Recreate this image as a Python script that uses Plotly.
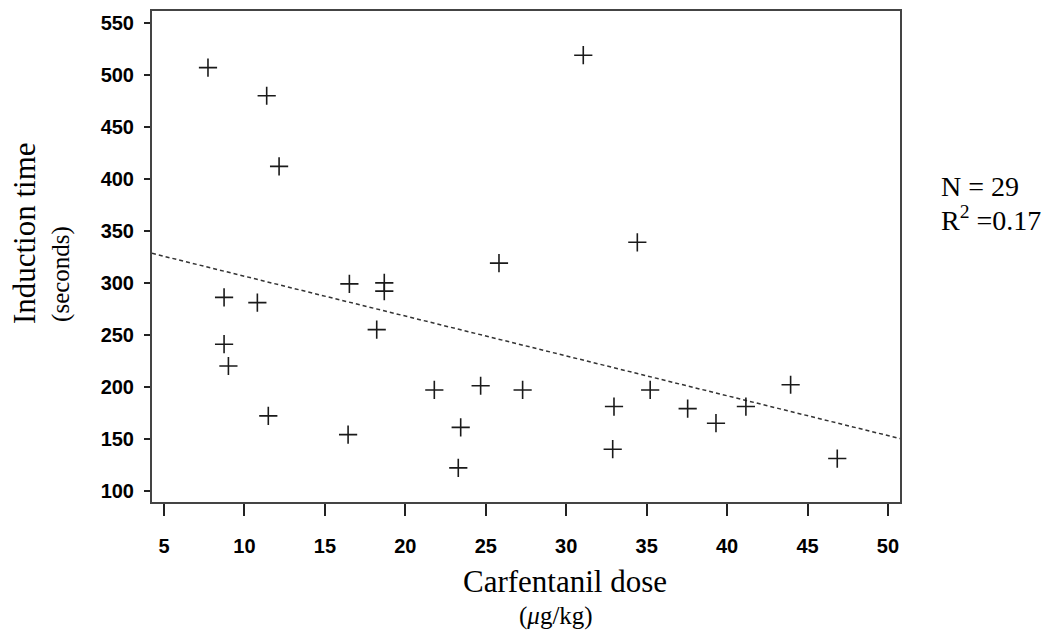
import plotly.graph_objects as go

# Data
dose = [7.73, 11.38, 12.15, 8.73, 10.80, 16.52, 18.69, 18.69, 25.82, 34.42,
        31.06, 8.73, 9.00, 11.48, 16.44, 18.22, 21.80, 24.68, 27.29, 23.44,
        23.29, 32.97, 32.89, 35.22, 37.55, 39.31, 41.17, 43.95, 46.85]
induction_time = [507, 480, 412, 286, 281, 299, 300, 292, 319, 339,
                  519, 241, 220, 172, 154, 255, 197, 201, 197, 161,
                  122, 181, 140, 197, 179, 165, 181, 202, 131]

# Regression line
fit_x = [4.25, 50.75]
fit_y = [328.4, 150.2]

x_ticks = [5, 10, 15, 20, 25, 30, 35, 40, 45, 50]
y_ticks = [100, 150, 200, 250, 300, 350, 400, 450, 500, 550]

fig = go.Figure()
fig.add_trace(go.Scatter(
    x=fit_x, y=fit_y, mode="lines",
    line=dict(color="#333333", width=1.5, dash="4px,3px"),
    showlegend=False, hoverinfo="skip"))
fig.add_trace(go.Scatter(
    x=dose, y=induction_time, mode="markers",
    marker=dict(symbol="cross-thin", size=13,
                line=dict(color="#1a1a1a", width=1.6)),
    showlegend=False))

tickfont = dict(family="Liberation Sans", size=20, color="black", weight="bold")
fig.update_xaxes(range=[4.25, 50.75], tickvals=x_ticks, ticks="outside",
                 ticklen=12, tickwidth=1.5, tickcolor="#222",
                 showline=True, linecolor="#444", linewidth=2, mirror=True,
                 showgrid=False, zeroline=False, tickfont=tickfont,
                 ticklabelstandoff=13)
fig.update_yaxes(range=[89.2, 561.5], tickvals=y_ticks, ticks="outside",
                 ticklen=6, tickwidth=1.5, tickcolor="#222",
                 showline=True, linecolor="#444", linewidth=2, mirror=True,
                 showgrid=False, zeroline=False, tickfont=tickfont,
                 ticklabelstandoff=6)

serif = "Liberation Serif"
annotations = [
    dict(text="Induction time", x=-0.1711, y=0.5477, textangle=-90,
         font=dict(family=serif, size=31, color="black")),
    dict(text="(seconds)", x=-0.1217, y=0.4645, textangle=-90,
         font=dict(family=serif, size=25, color="black")),
    dict(text="Carfentanil dose", x=0.5521, y=-0.1623,
         font=dict(family=serif, size=31, color="black")),
    dict(text="(<i>μ</i>g/kg)", x=0.5401, y=-0.2312,
         font=dict(family=serif, size=25, color="black")),
    dict(text="N = 29", x=1.0521, y=0.643, xanchor="left",
         font=dict(family=serif, size=28, color="black")),
    dict(text="R<sup>2</sup> =0.17", x=1.0521, y=0.578, xanchor="left",
         font=dict(family=serif, size=28, color="black")),
]
for a in annotations:
    a.setdefault("xanchor", "center")
    a.update(xref="paper", yref="paper", yanchor="middle", showarrow=False)

fig.update_layout(
    width=1057, height=635,
    margin=dict(l=152, r=157, t=9, b=133),
    plot_bgcolor="white", paper_bgcolor="white",
    annotations=annotations,
)

fig.write_html("out.html", config={"displayModeBar": False},
               post_script="document.body.style.margin='0';document.body.style.overflow='hidden';")
